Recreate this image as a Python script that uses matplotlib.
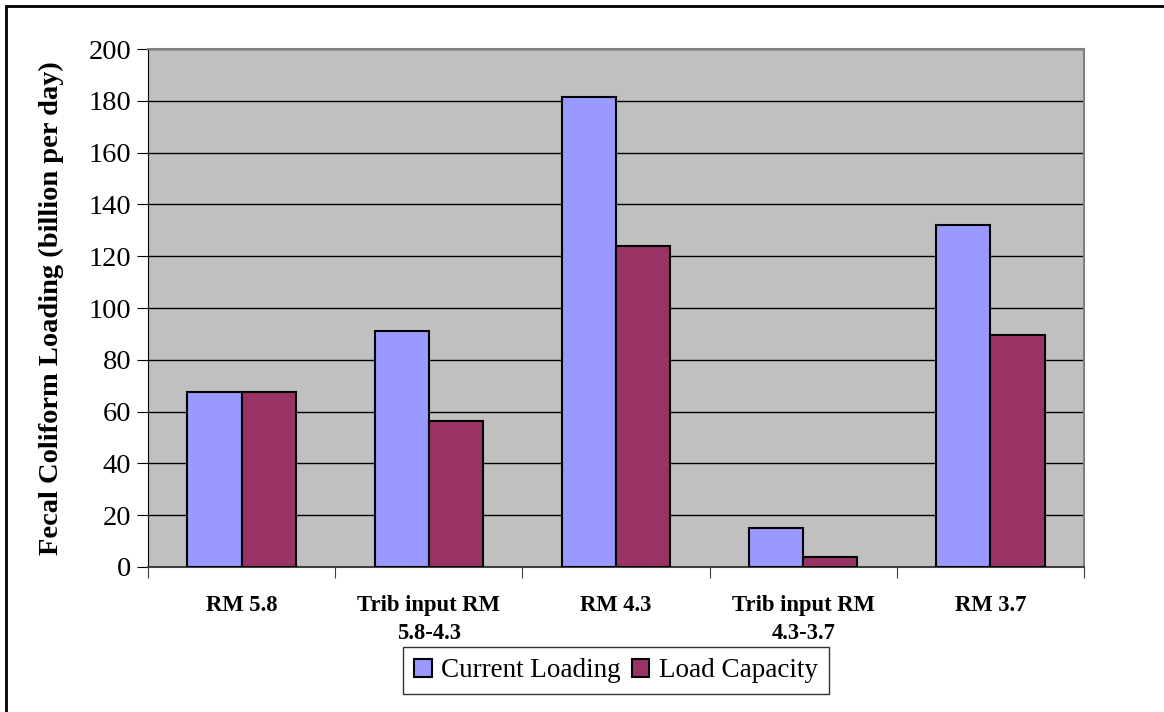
import numpy as np
import matplotlib.pyplot as plt
from matplotlib.patches import Rectangle

plt.rcParams['font.family'] = ['Liberation Serif', 'DejaVu Serif']

# fecal coliform loads per reach
sites = ["RM 5.8", "Trib input RM\n5.8-4.3", "RM 4.3", "Trib input RM\n4.3-3.7", "RM 3.7"]
current_loading = [67.5, 91, 181.5, 15, 132]
load_capacity = [67.5, 56.5, 124, 4, 89.5]

fig = plt.figure(figsize=(11.64, 7.12), dpi=100)
ax = fig.add_axes([148/1164, 1-567/712, (1084-148)/1164, (567-49)/712])

x = np.arange(len(sites))
w = 0.29
ax.bar(x - w/2, current_loading, w, color='#9999FF', edgecolor='black', linewidth=1.5,
       label='Current Loading', zorder=3)
ax.bar(x + w/2, load_capacity, w, color='#993366', edgecolor='black', linewidth=1.5,
       label='Load Capacity', zorder=3)

ax.set_facecolor('#C0C0C0')
ax.set_xlim(-0.5, len(sites) - 0.5)
ax.set_ylim(0, 200)
ax.set_yticks(np.arange(0, 201, 20))
ax.yaxis.grid(True, color='black', linewidth=1, zorder=0)
ax.set_axisbelow(True)

for s in ['top', 'right']:
    ax.spines[s].set_color('#808080')
    ax.spines[s].set_linewidth(1.5)
ax.spines['left'].set_color('black')
ax.spines['bottom'].set_color('#404040')
ax.spines['bottom'].set_linewidth(1.5)

ax.set_xticks(np.arange(-0.5, len(sites)), minor=False)
ax.set_xticklabels([])
ax.set_xticks(x, minor=True)
ax.set_xticklabels(sites, minor=True, fontsize=16.3, fontweight='bold', linespacing=1.45,
                   va='top')
ax.tick_params(axis='x', which='major', length=8, direction='out', color='#404040')
ax.tick_params(axis='x', which='minor', length=0, pad=20)
ax.tick_params(axis='y', length=8, labelsize=20.5, pad=4)

ax.set_ylabel('Fecal Coliform Loading (billion per day)', fontsize=20.5,
              fontweight='bold', labelpad=18)

leg = ax.legend(loc='center', bbox_to_anchor=(0.5, -0.2), ncol=2, fontsize=19.5,
                frameon=True, fancybox=False, edgecolor='black', handlelength=0.65,
                handleheight=0.65, handletextpad=0.35, columnspacing=0.4,
                borderpad=0.4, borderaxespad=0)
leg.get_frame().set_linewidth(1)
for h in leg.legend_handles:
    h.set_linewidth(1.5)

# outer border around the chart
fig.patches.append(Rectangle((6/1164, -0.1), 1.2, 1.1 - 6/712,
                             transform=fig.transFigure, fill=False,
                             edgecolor='black', linewidth=2))

fig.savefig('out.png', dpi=100)
